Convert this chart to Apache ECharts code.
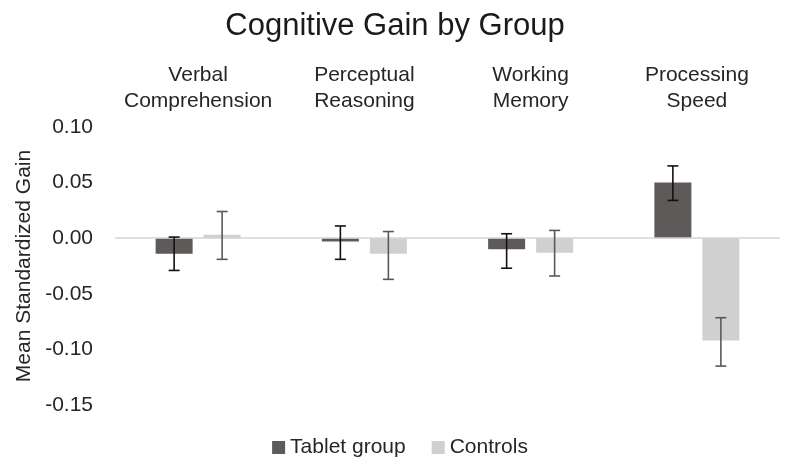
<!DOCTYPE html>
<html>
<head>
<meta charset="utf-8">
<script src="https://cdn.jsdelivr.net/npm/echarts@6/dist/echarts.min.js"></script>
<style>
html,body{margin:0;padding:0;background:#fff;}
#chart{width:800px;height:475px;}
</style>
</head>
<body>
<div id="chart"></div>
<script>
var categories = ['Verbal\nComprehension', 'Perceptual\nReasoning', 'Working\nMemory', 'Processing\nSpeed'];
var seriesNames = ['Tablet group', 'Controls'];
var tabletValues = [-0.014, -0.003, -0.010, 0.050];
var controlValues = [0.003, -0.014, -0.013, -0.092];
var tabletLow = [-0.029, -0.019, -0.027, 0.034];
var tabletHigh = [0.001, 0.011, 0.004, 0.065];
var controlLow = [-0.019, -0.037, -0.034, -0.115];
var controlHigh = [0.024, 0.006, 0.007, -0.0715];
var yTicks = { min: -0.15, max: 0.10, interval: 0.05 };

var FONT = 'Liberation Sans';
var BAR_W = 37;
var GAP = 11;
var OFFSET = (BAR_W + GAP) / 2;

function errSeries(name, low, high, dir, color) {
  return {
    type: 'custom',
    name: name + ' err',
    silent: true,
    z: 10,
    data: low.map(function (l, i) { return [i, l, high[i]]; }),
    renderItem: function (params, api) {
      var lo = api.coord([api.value(0), api.value(1)]);
      var hi = api.coord([api.value(0), api.value(2)]);
      var x = lo[0] + dir * OFFSET;
      var cap = 5.5;
      var style = { stroke: color, lineWidth: 1.6 };
      return {
        type: 'group',
        children: [
          { type: 'line', shape: { x1: x, y1: lo[1], x2: x, y2: hi[1] }, style: style },
          { type: 'line', shape: { x1: x - cap, y1: lo[1], x2: x + cap, y2: lo[1] }, style: style },
          { type: 'line', shape: { x1: x - cap, y1: hi[1], x2: x + cap, y2: hi[1] }, style: style }
        ]
      };
    }
  };
}

var chart = echarts.init(document.getElementById('chart'), null, { renderer: 'canvas' });
chart.setOption({
  animation: false,
  backgroundColor: '#ffffff',
  textStyle: { fontFamily: FONT },
  title: {
    text: 'Cognitive Gain by Group',
    left: 390, textAlign: 'center', top: 6,
    textStyle: { fontFamily: FONT, fontSize: 31, fontWeight: 'normal', color: '#1a1a1a' }
  },
  legend: {
    data: seriesNames,
    bottom: 12, left: 'center',
    itemWidth: 13, itemHeight: 13, itemGap: 26,
    icon: 'rect',
    textStyle: { fontFamily: FONT, fontSize: 21, color: '#262626' }
  },
  grid: { left: 115, right: 20, top: 127, bottom: 70 },
  xAxis: {
    type: 'category',
    position: 'top',
    data: categories,
    axisLine: { show: false },
    axisTick: { show: false },
    axisLabel: {
      interval: 0, hideOverlap: false,
      margin: 13, fontFamily: FONT, fontSize: 21, lineHeight: 26,
      color: '#262626', align: 'center'
    }
  },
  yAxis: {
    type: 'value',
    min: yTicks.min, max: yTicks.max, interval: yTicks.interval,
    name: 'Mean Standardized Gain',
    nameLocation: 'middle',
    nameGap: 80,
    nameTextStyle: { fontFamily: FONT, fontSize: 21, color: '#262626' },
    axisLine: { show: false },
    axisTick: { show: false },
    splitLine: { show: false },
    axisLabel: {
      margin: 22, fontFamily: FONT, fontSize: 21, color: '#262626',
      formatter: function (v) { return v.toFixed(2); }
    }
  },
  series: [
    {
      name: seriesNames[0], type: 'bar', data: tabletValues,
      barWidth: BAR_W, barGap: (GAP / BAR_W * 100) + '%',
      itemStyle: { color: '#5e5a5a' },
      markLine: {
        silent: true, symbol: 'none', label: { show: false },
        lineStyle: { color: '#d4d4d4', width: 1.5, type: 'solid' },
        data: [{ yAxis: 0 }]
      }
    },
    {
      name: seriesNames[1], type: 'bar', data: controlValues,
      barWidth: BAR_W,
      itemStyle: { color: '#d0d0d0' }
    },
    errSeries(seriesNames[0], tabletLow, tabletHigh, -1, '#111111'),
    errSeries(seriesNames[1], controlLow, controlHigh, 1, '#595959')
  ]
});
</script>
</body>
</html>
